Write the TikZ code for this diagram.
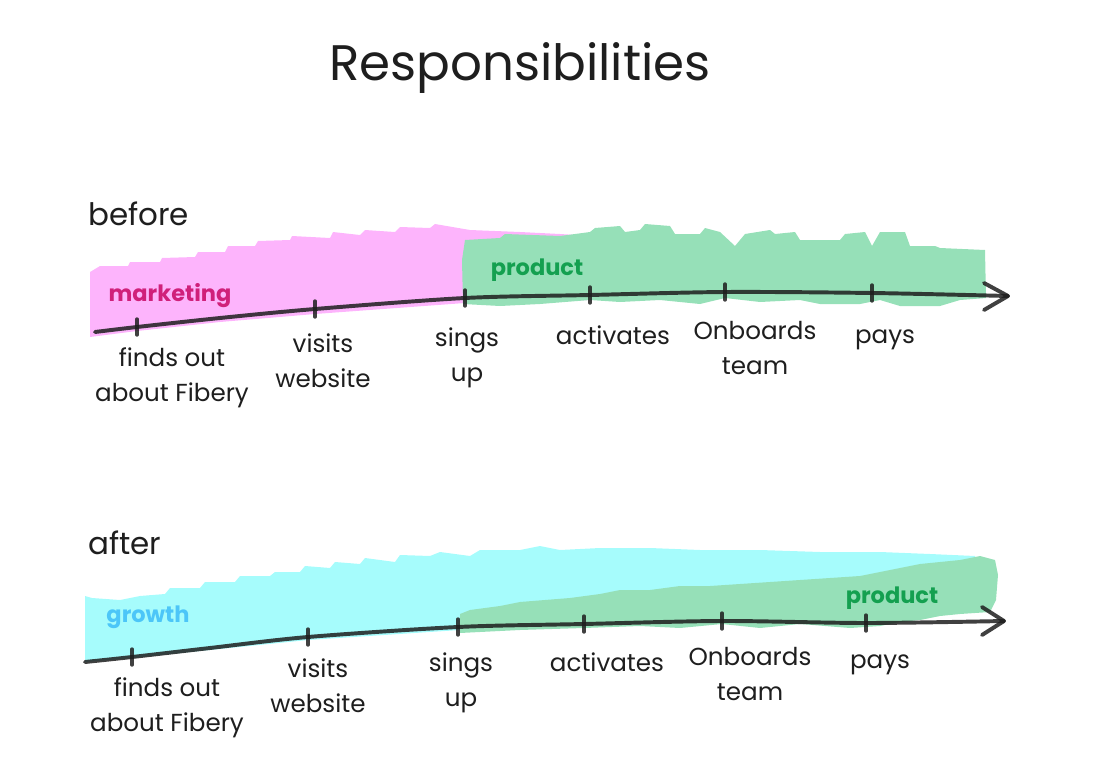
\documentclass[tikz,border=0pt]{standalone}
\usepackage{fontspec}
\setmainfont{Poppins}
\usetikzlibrary{calc}
\definecolor{ink}{HTML}{1E1E1E}
\definecolor{pinkfill}{HTML}{FDB4FC}
\definecolor{greenfill}{HTML}{96E0B8}
\definecolor{cyanfill}{HTML}{A6FCFC}
\definecolor{magtext}{HTML}{D0207A}
\definecolor{greentext}{HTML}{14A050}
\definecolor{cyantext}{HTML}{4CC6F8}
\tikzset{
  axisline/.style={draw=ink, line width=2.8pt, line cap=round, line join=round, opacity=0.85},
  tickline/.style={draw=ink, line width=2.4pt, line cap=round, opacity=0.85},
  lbl/.style={text=ink, font=\fontsize{17.5}{25}\selectfont, align=center, inner sep=0pt, anchor=north},
  heading/.style={text=ink, font=\fontsize{22}{26}\selectfont, anchor=west, inner sep=0pt},
  tag/.style={font=\fontsize{16}{18}\selectfont\bfseries, inner sep=0pt},
}
\begin{document}
\begin{tikzpicture}[x=0.025cm, y=-0.025cm]
\useasboundingbox (0,0) rectangle (1100,763);

% title
\node[text=ink, font=\fontsize{35.5}{40}\selectfont, inner sep=0pt] (title) at (520,68) {Responsibilities};

% ---------------- BEFORE ----------------
\node[heading] (before) at (88,214) {before};

% fills
\fill[pinkfill] (90,337) -- (90,272) -- (100,266) -- (128,266) -- (130,262) -- (160,262) -- (162,258) -- (195,257) -- (198,252) -- (225,252) -- (228,246) -- (255,246) -- (258,241) -- (290,240) -- (292,236) -- (330,238) -- (333,232) -- (360,235) -- (365,230) -- (395,232) -- (400,227) -- (430,228) -- (435,224) -- (470,230) -- (520,232) -- (560,234) -- (592,236) -- (592,300) -- (465,303) -- (315,314) -- (220,322) -- (137,331) -- cycle;
\fill[greenfill] (463,304) -- (462,260) -- (465,240) -- (500,238) -- (505,234) -- (560,236) -- (590,232) -- (595,228) -- (620,226) -- (625,232) -- (640,230) -- (645,224) -- (670,226) -- (675,234) -- (700,234) -- (705,228) -- (720,232) -- (735,246) -- (745,234) -- (770,230) -- (775,234) -- (795,232) -- (800,240) -- (840,240) -- (845,234) -- (865,232) -- (872,246) -- (880,232) -- (905,232) -- (910,246) -- (935,246) -- (940,248) -- (985,250) -- (986,298) -- (960,300) -- (940,306) -- (900,306) -- (880,300) -- (860,304) -- (820,304) -- (800,300) -- (760,302) -- (725,298) -- (700,304) -- (660,300) -- (620,302) -- (590,300) -- (540,304) -- (500,306) -- cycle;

% axis
\coordinate (b0) at (95,332);
\coordinate (b1) at (137,327);
\coordinate (bm) at (220,318);
\coordinate (b2) at (315,309);
\coordinate (b3) at (465,298);
\coordinate (b4) at (590,295);
\coordinate (b5) at (725,292);
\coordinate (b6) at (872,293);
\coordinate (bend) at (1008,296);
\coordinate (bha) at (984,283);
\coordinate (bhb) at (984,310);
\draw[axisline] plot[smooth] coordinates {(b0) (b1) (bm) (b2) (b3) (b4) (b5) (b6) (bend)};
\draw[axisline] (bha) -- (bend) -- (bhb);
\foreach \c in {b1,b2,b3,b4,b5,b6}
  \draw[tickline] ($(\c)+(0,-8)$) -- ($(\c)+(0,8)$);

\node[tag, text=magtext] (marketing) at (170,296) {marketing};
\node[tag, text=greentext] (productb) at (537,270) {product};

\node[lbl] (bl1) at (172,347) {finds out\\about Fibery};
\node[lbl] (bl2) at (323,333) {visits\\website};
\node[lbl] (bl3) at (467,327) {sings\\up};
\node[lbl] (bl4) at (613,325) {activates};
\node[lbl] (bl5) at (755,321) {Onboards\\team};
\node[lbl] (bl6) at (885,330) {pays};

% ---------------- AFTER ----------------
\node[heading] (after) at (88,543) {after};

\fill[cyanfill] (85,662) -- (85,596) -- (92,598) -- (120,600) -- (140,596) -- (165,594) -- (170,588) -- (200,588) -- (205,582) -- (235,582) -- (240,576) -- (270,576) -- (275,572) -- (300,572) -- (305,566) -- (330,568) -- (335,562) -- (360,564) -- (365,558) -- (395,562) -- (400,555) -- (430,556) -- (440,552) -- (470,556) -- (480,550) -- (520,550) -- (540,546) -- (560,550) -- (600,548) -- (650,548) -- (700,550) -- (760,550) -- (820,552) -- (880,552) -- (930,554) -- (975,556) -- (978,600) -- (460,615) -- (460,630) -- (308,640) -- (210,650) -- (132,658) -- cycle;
\fill[greenfill] (460,633) -- (460,614) -- (470,610) -- (500,606) -- (520,602) -- (545,600) -- (570,598) -- (600,594) -- (620,590) -- (650,590) -- (680,586) -- (710,586) -- (740,584) -- (770,582) -- (800,580) -- (830,578) -- (860,576) -- (880,572) -- (900,568) -- (920,564) -- (940,562) -- (960,560) -- (980,556) -- (995,560) -- (998,575) -- (996,600) -- (990,612) -- (960,614) -- (940,616) -- (920,620) -- (900,622) -- (880,626) -- (850,628) -- (800,624) -- (760,628) -- (722,624) -- (680,628) -- (640,626) -- (584,628) -- (520,630) -- cycle;

\coordinate (a0) at (85,662);
\coordinate (a1) at (132,657);
\coordinate (am) at (210,648);
\coordinate (a2) at (308,637);
\coordinate (a3) at (458,627);
\coordinate (a4) at (584,624);
\coordinate (a5) at (722,621);
\coordinate (a6) at (866,623);
\coordinate (aend) at (1004,621);
\coordinate (aha) at (982,607);
\coordinate (ahb) at (982,635);
\draw[axisline] plot[smooth] coordinates {(a0) (a1) (am) (a2) (a3) (a4) (a5) (a6) (aend)};
\draw[axisline] (aha) -- (aend) -- (ahb);
\foreach \c in {a1,a2,a3,a4,a5,a6}
  \draw[tickline] ($(\c)+(0,-8)$) -- ($(\c)+(0,8)$);

\node[tag, text=cyantext] (growth) at (148,617) {growth};
\node[tag, text=greentext] (producta) at (892,598) {product};

\node[lbl] (al1) at (167,677) {finds out\\about Fibery};
\node[lbl] (al2) at (318,658) {visits\\website};
\node[lbl] (al3) at (461,652) {sings\\up};
\node[lbl] (al4) at (607,652) {activates};
\node[lbl] (al5) at (750,647) {Onboards\\team};
\node[lbl] (al6) at (880,655) {pays};
\end{tikzpicture}
\end{document}
